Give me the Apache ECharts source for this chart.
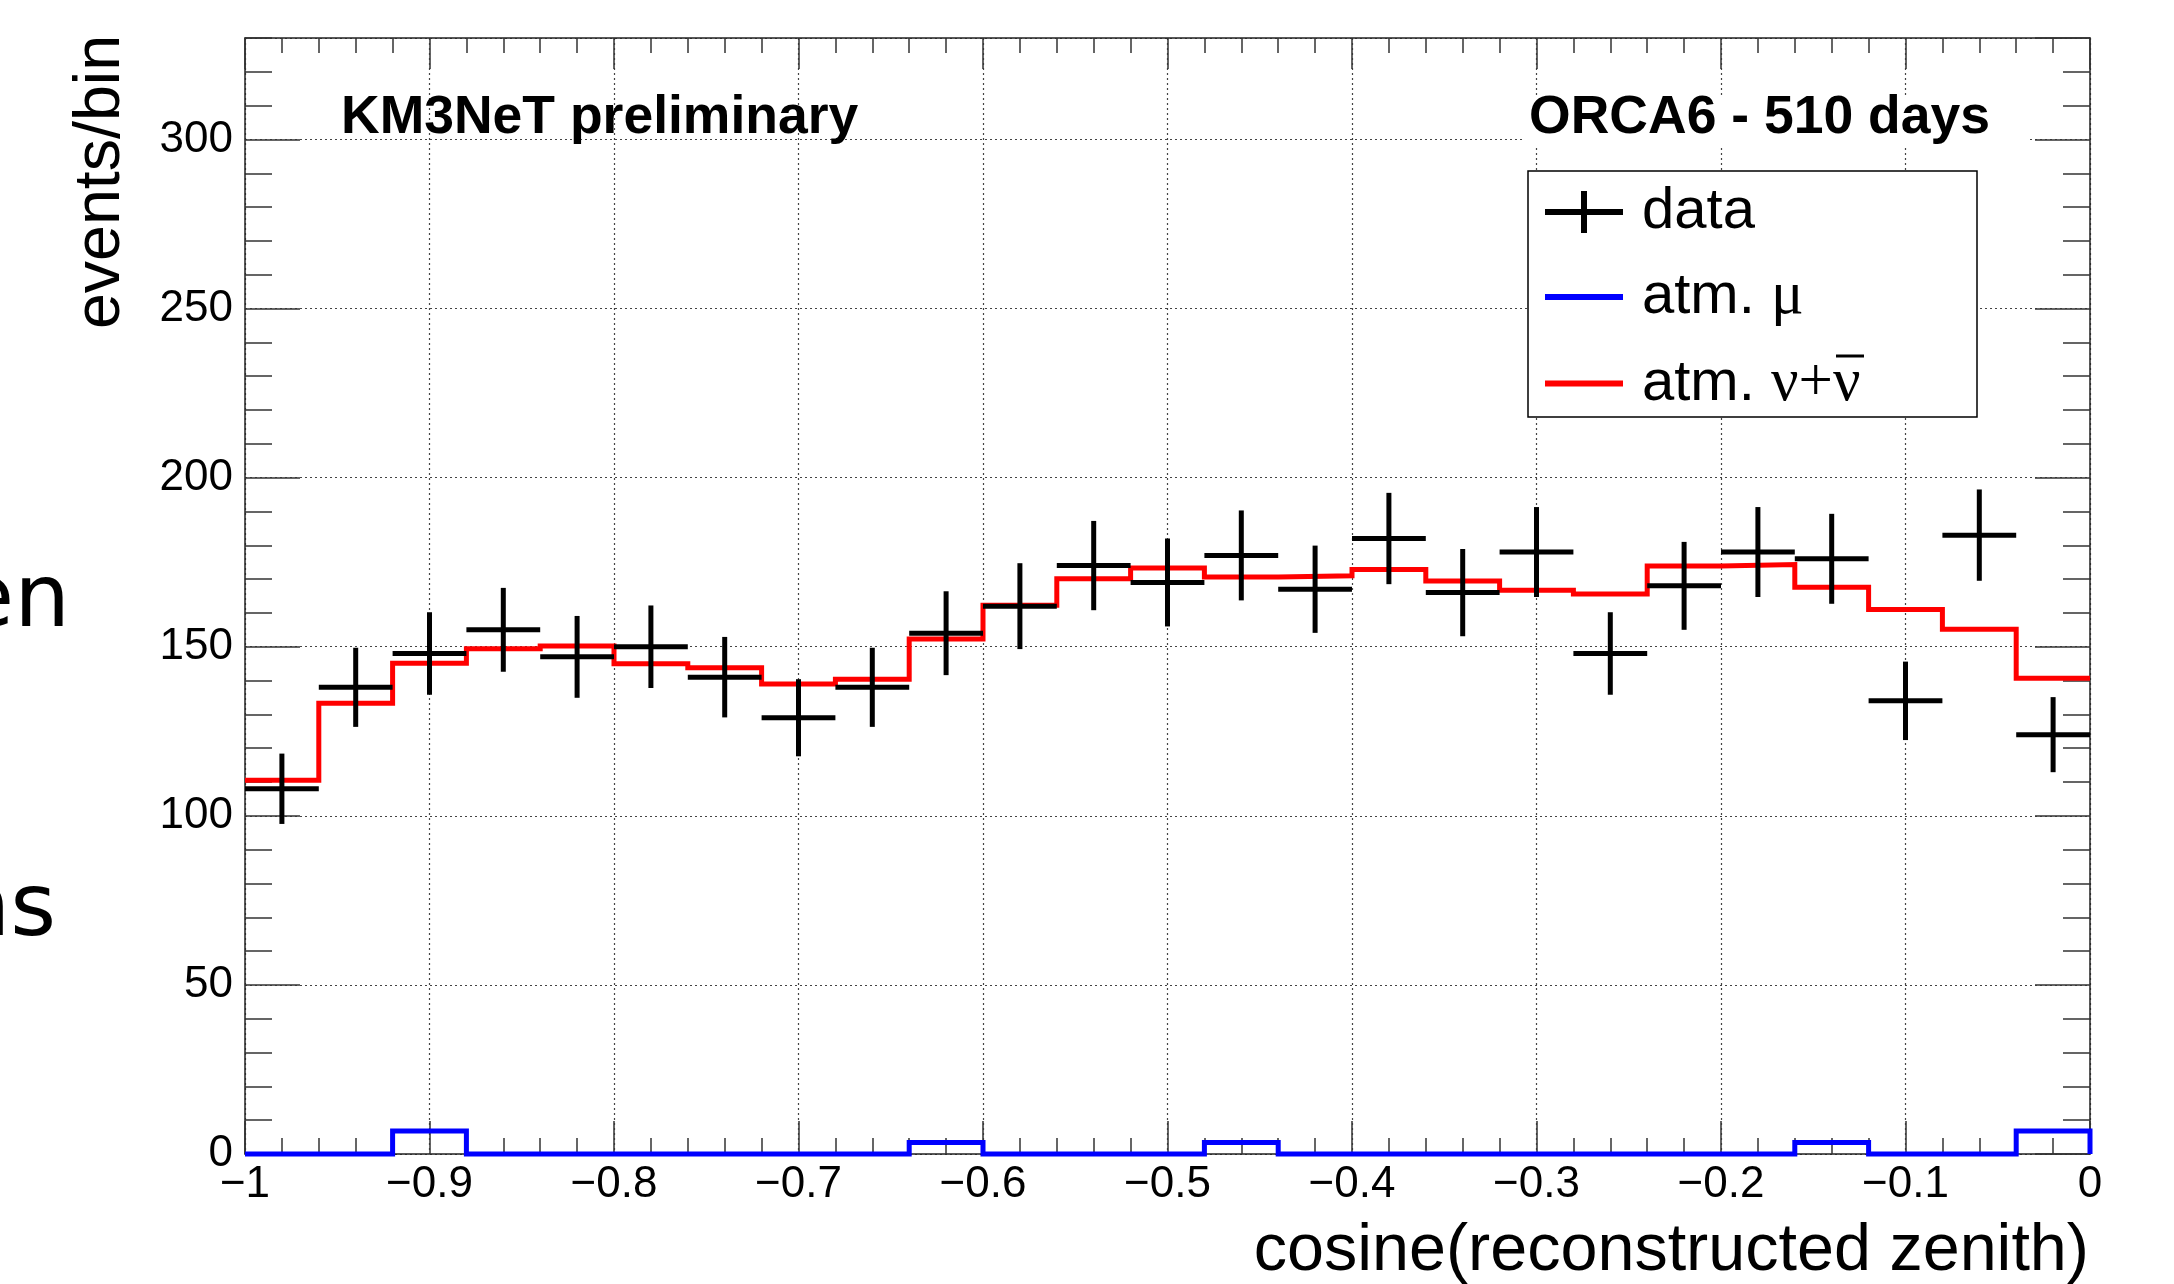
<!DOCTYPE html>
<html>
<head>
<meta charset="utf-8">
<script src="https://cdn.jsdelivr.net/npm/echarts@6/dist/echarts.min.js"></script>
<style>
html,body{margin:0;padding:0;background:#fff;}
#chart{width:2174px;height:1284px;}
</style>
</head>
<body>
<div id="chart"></div>
<script>
// ---- data ----
const binEdges = [-1, -0.96, -0.92, -0.88, -0.84, -0.8, -0.76, -0.72, -0.68, -0.64, -0.6,
  -0.56, -0.52, -0.48, -0.44, -0.4, -0.36, -0.32, -0.28, -0.24, -0.2,
  -0.16, -0.12, -0.08, -0.04, 0];
const dataCounts = [108, 138, 148, 155, 147, 150, 141, 129, 138, 154, 162, 174, 169,
  177, 167, 182, 166, 178, 148, 168, 178, 176, 134, 183, 124];
const dataErrors = [10.4, 11.7, 12.2, 12.4, 12.1, 12.2, 11.9, 11.4, 11.7, 12.4, 12.7, 13.2, 13.0,
  13.3, 12.9, 13.5, 12.9, 13.3, 12.2, 13.0, 13.3, 13.3, 11.6, 13.5, 11.1];
const atmNu = [110.5, 133.3, 145.1, 149.4, 150.2, 145.0, 143.8, 139.0, 140.4, 152.3, 162.3, 170.1, 173.3,
  170.6, 171.0, 172.8, 169.4, 166.7, 165.6, 173.9, 174.3, 167.6, 161.0, 155.2, 140.7];
const atmMu = [0, 0, 6.8, 0, 0, 0, 0, 0, 0, 3.4, 0, 0, 0,
  3.4, 0, 0, 0, 0, 0, 0, 0, 3.4, 0, 0, 6.8];
const xTicks = { min: -1, max: 0, interval: 0.1 };
const yTicks = { min: 0, max: 330, interval: 50, minorInterval: 10 };

// ---- build series inputs ----
const lastEdge = binEdges[binEdges.length - 1];
const nuStep = atmNu.map((v, i) => [binEdges[i], v]).concat([[lastEdge, atmNu[atmNu.length - 1]]]);
const muStep = atmMu.map((v, i) => [binEdges[i], v]).concat([[lastEdge, atmMu[atmMu.length - 1]], [lastEdge, 0]]);
const crossData = dataCounts.map((v, i) => [binEdges[i], binEdges[i + 1], v, dataErrors[i]]);

const FONT = '"Liberation Sans", Arial, Helvetica, sans-serif';
const SERIF = '"Liberation Serif", "Times New Roman", serif';
const axisLineStyle = { color: '#222', width: 1.5 };
const tickStyle = { color: '#333', width: 1.5 };
const gridStyle = { color: '#444', width: 1.2, type: [2, 3] };

const crossIcon = 'path://M0,0L0,0ZM92,48L92,48ZM0,21L78,21L78,27L0,27ZM36,3L42,3L42,45L36,45Z';
const lineIcon = 'path://M0,0L0,0ZM92,48L92,48ZM0,21L78,21L78,27L0,27Z';

const NAME_DATA = 'data';
const NAME_MU = 'atm. \u03bc';
const NAME_NU = 'atm. \u03bd+\u03bd\u0304';

const chart = echarts.init(document.getElementById('chart'), null, { renderer: 'canvas' });

function minus(v) {
  if (Math.abs(v) < 1e-9) return '0';
  return (v < 0 ? '\u2212' : '') + String(Math.abs(v));
}

const option = {
  animation: false,
  backgroundColor: '#fff',
  grid: { left: 245, top: 38, right: 84, bottom: 130, containLabel: false, outerBoundsMode: 'none' },
  xAxis: [
    {
      type: 'value', position: 'bottom', min: xTicks.min, max: xTicks.max, interval: xTicks.interval,
      axisLine: { show: true, onZero: false, lineStyle: axisLineStyle },
      axisTick: { show: true, inside: true, length: 33, lineStyle: tickStyle },
      minorTick: { show: true, splitNumber: 5, length: 16, lineStyle: tickStyle },
      splitLine: { show: true, lineStyle: gridStyle },
      axisLabel: { show: true, margin: 9, fontSize: 44, lineHeight: 44, fontFamily: FONT, color: '#000',
        formatter: minus, showMinLabel: true, showMaxLabel: true, hideOverlap: false }
    },
    {
      type: 'value', position: 'top', min: xTicks.min, max: xTicks.max, interval: xTicks.interval,
      axisLine: { show: true, onZero: false, lineStyle: axisLineStyle },
      axisTick: { show: true, inside: true, length: 31, lineStyle: tickStyle },
      minorTick: { show: true, splitNumber: 5, length: 15, lineStyle: tickStyle },
      splitLine: { show: false },
      axisLabel: { show: false }
    }
  ],
  yAxis: [
    {
      type: 'value', position: 'left', min: yTicks.min, max: yTicks.max, interval: yTicks.interval,
      axisLine: { show: true, onZero: false, lineStyle: axisLineStyle },
      axisTick: { show: true, inside: true, length: 55, lineStyle: tickStyle },
      splitLine: { show: true, lineStyle: gridStyle },
      axisLabel: { show: true, margin: 12, fontSize: 44, fontFamily: FONT, color: '#000', showMaxLabel: false, hideOverlap: false }
    },
    {
      type: 'value', position: 'right', min: yTicks.min, max: yTicks.max, interval: yTicks.interval,
      axisLine: { show: true, onZero: false, lineStyle: axisLineStyle },
      axisTick: { show: true, inside: true, length: 55, lineStyle: tickStyle },
      splitLine: { show: false },
      axisLabel: { show: false }
    },
    {
      type: 'value', position: 'left', min: yTicks.min, max: yTicks.max, interval: yTicks.minorInterval,
      axisLine: { show: false, onZero: false },
      axisTick: { show: true, inside: true, length: 27, lineStyle: tickStyle },
      splitLine: { show: false },
      axisLabel: { show: false }
    },
    {
      type: 'value', position: 'right', min: yTicks.min, max: yTicks.max, interval: yTicks.minorInterval,
      axisLine: { show: false, onZero: false },
      axisTick: { show: true, inside: true, length: 27, lineStyle: tickStyle },
      splitLine: { show: false },
      axisLabel: { show: false }
    }
  ],
  legend: {
    orient: 'vertical', left: 1545, top: 183, padding: 0,
    itemWidth: 92, itemHeight: 48, itemGap: 25.5,
    selectedMode: false,
    itemStyle: { borderWidth: 0 },
    textStyle: { fontSize: 58, lineHeight: 56, fontFamily: FONT, color: '#000',
      rich: {
        g: { fontSize: 61, lineHeight: 56, fontFamily: SERIF, color: '#000' },
        h: { fontSize: 61, lineHeight: 56, fontFamily: SERIF, color: 'rgba(0,0,0,0)' }
      } },
    formatter: function (name) {
      if (name === NAME_MU) return 'atm. {g|\u03bc}';
      if (name === NAME_NU) return 'atm. {g|\u03bd+\u03bd}{h|\u0304}';
      return name;
    },
    data: [
      { name: NAME_DATA, icon: crossIcon },
      { name: NAME_MU, icon: lineIcon },
      { name: NAME_NU, icon: lineIcon }
    ]
  },
  graphic: [
    { type: 'rect', z: 3, shape: { x: 1528, y: 171, width: 449, height: 246 },
      style: { fill: '#fff', stroke: '#000', lineWidth: 1.5 } },
    // overline of the anti-neutrino symbol in the legend
    { type: 'line', z: 6, shape: { x1: 1836, y1: 356, x2: 1864, y2: 356 },
      style: { stroke: '#000', lineWidth: 3 } },
    { type: 'rect', z: 1, shape: { x: 1524, y: 98, width: 506, height: 50 },
      style: { fill: '#fff' } },
    { type: 'text', z: 5, x: 341, y: 118,
      style: { text: 'KM3NeT preliminary', fontSize: 53.5, fontWeight: 'bold', fontFamily: FONT, fill: '#000',
        align: 'left', verticalAlign: 'middle' } },
    { type: 'text', z: 5, x: 1990, y: 118,
      style: { text: 'ORCA6 - 510 days', fontSize: 53.5, fontWeight: 'bold', fontFamily: FONT, fill: '#000',
        align: 'right', verticalAlign: 'middle' } },
    { type: 'text', z: 5, x: 2089, y: 1252,
      style: { text: 'cosine(reconstructed zenith)', fontSize: 66.5, fontFamily: FONT, fill: '#000',
        align: 'right', verticalAlign: 'middle' } },
    { type: 'text', z: 5, x: 101, y: 35, rotation: Math.PI / 2,
      style: { text: 'events/bin', fontSize: 64.5, fontFamily: FONT, fill: '#000',
        align: 'right', verticalAlign: 'middle' } },
    { type: 'text', z: 5, x: 70, y: 603,
      style: { text: 'en', fontSize: 88, fontFamily: '"DejaVu Sans", sans-serif', fill: '#000',
        align: 'right', verticalAlign: 'middle' } },
    { type: 'text', z: 5, x: 56, y: 912,
      style: { text: 'ns', fontSize: 88, fontFamily: '"DejaVu Sans", sans-serif', fill: '#000',
        align: 'right', verticalAlign: 'middle' } }
  ],
  series: [
    {
      name: NAME_NU, type: 'line', xAxisIndex: 0, yAxisIndex: 0,
      step: 'end', data: nuStep, showSymbol: false, symbol: 'none', z: 2,
      color: '#ff0000', itemStyle: { color: '#ff0000' },
      lineStyle: { color: '#ff0000', width: 5, join: 'miter', cap: 'butt' },
      clip: false
    },
    {
      name: NAME_MU, type: 'line', xAxisIndex: 0, yAxisIndex: 0,
      step: 'end', data: muStep, showSymbol: false, symbol: 'none', z: 3,
      color: '#0000ff', itemStyle: { color: '#0000ff' },
      lineStyle: { color: '#0000ff', width: 5, join: 'miter', cap: 'butt' },
      clip: false
    },
    {
      name: NAME_DATA, type: 'custom', xAxisIndex: 0, yAxisIndex: 0, z: 4,
      itemStyle: { color: '#000' },
      encode: { x: [0, 1], y: 2 },
      data: crossData,
      clip: false,
      renderItem: function (params, api) {
        const lo = api.value(0), hi = api.value(1), v = api.value(2), e = api.value(3);
        const xm = (lo + hi) / 2;
        const pL = api.coord([lo, v]);
        const pR = api.coord([hi, v]);
        const pT = api.coord([xm, v + e]);
        const pB = api.coord([xm, v - e]);
        const st = { stroke: '#000', lineWidth: 5, fill: null };
        return {
          type: 'group',
          children: [
            { type: 'line', shape: { x1: pL[0], y1: pL[1], x2: pR[0], y2: pR[1] }, style: st },
            { type: 'line', shape: { x1: pT[0], y1: pT[1], x2: pB[0], y2: pB[1] }, style: st }
          ]
        };
      }
    }
  ]
};
chart.setOption(option);
</script>
</body>
</html>
